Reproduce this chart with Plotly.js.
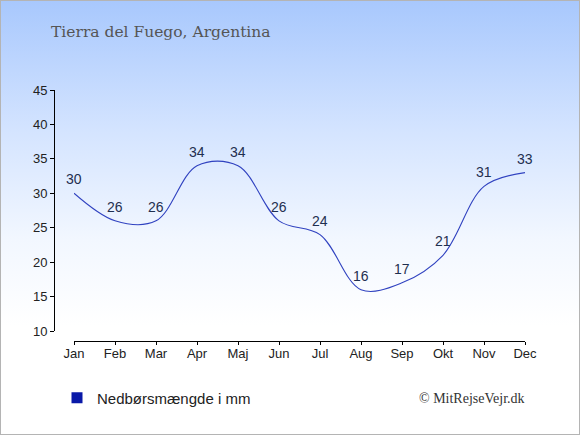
<!DOCTYPE html>
<html>
<head>
<meta charset="utf-8">
<script src="https://cdn.plot.ly/plotly-3.0.1.min.js"></script>
<style>
html,body{margin:0;padding:0;}
#wrap{position:relative;width:578px;height:433px;border:1px solid #b4b4b4;
 background:linear-gradient(to bottom,#a8c8fd 0%,#d4e4ff 30%,#f2f7ff 55%,#ffffff 75%,#ffffff 100%);}
#chart{position:absolute;left:-1px;top:-1px;width:580px;height:435px;}
</style>
</head>
<body>
<div id="wrap"><div id="chart"></div></div>
<script>
const months = ["Jan","Feb","Mar","Apr","Maj","Jun","Jul","Aug","Sep","Okt","Nov","Dec"];
const precip = [30,26,26,34,34,26,24,16,17,21,31,33];
const yTicks = [10,15,20,25,30,35,40,45];
const chartTitle = "Tierra del Fuego, Argentina";
const seriesName = "Nedbørsmængde i mm";
const credit = "© MitRejseVejr.dk";

const W = 580, H = 435;
const idx = months.map((m,i)=>i);

const traces = [
  {
    x: idx, y: precip, mode: "lines", type: "scatter",
    line: {color: "#3042c0", width: 1.1, shape: "spline", smoothing: 1},
    showlegend: false, hoverinfo: "skip", cliponaxis: false
  },
  {
    x: [null], y: [null], mode: "markers", type: "scatter", name: seriesName,
    marker: {symbol: "square", size: 11, color: "#0a19a8"},
    showlegend: true
  }
];

const labelAnns = idx.map(i => ({
  x: i, y: precip[i], xref: "x", yref: "y",
  text: String(precip[i]), showarrow: false,
  xanchor: "center", yanchor: "middle", yshift: 14,
  font: {family: "Liberation Sans, Arial, sans-serif", size: 14, color: "#1f2f4f"}
}));

const layout = {
  width: W, height: H,
  margin: {l: 0, r: 0, t: 0, b: 0},
  paper_bgcolor: "rgba(0,0,0,0)",
  plot_bgcolor: "rgba(0,0,0,0)",
  title: {
    text: chartTitle, x: 51/W, xanchor: "left", y: 1 - 32/H, yanchor: "middle",
    font: {family: "DejaVu Serif, serif", size: 15.5, color: "#555555"}
  },
  xaxis: {
    domain: [74/W, 525/W], range: [0, 11],
    anchor: "free", position: (H-341)/H,
    tickvals: idx, ticktext: months,
    showline: true, linecolor: "#000", linewidth: 1,
    ticks: "outside", ticklen: 3, tickcolor: "#000",
    ticklabelstandoff: -3,
    showgrid: false, zeroline: false,
    tickfont: {family: "Liberation Sans, Arial, sans-serif", size: 13, color: "#222"},
    fixedrange: true
  },
  yaxis: {
    domain: [(H-331)/H, (H-90)/H], range: [10, 45],
    anchor: "free", position: 54/W,
    tickvals: yTicks,
    showline: true, linecolor: "#000", linewidth: 1,
    ticks: "outside", ticklen: 4, tickcolor: "#000",
    showgrid: false, zeroline: false,
    tickfont: {family: "Liberation Sans, Arial, sans-serif", size: 13, color: "#222"},
    fixedrange: true
  },
  showlegend: true,
  legend: {
    x: 57/W, y: 1 - 398/H, xanchor: "left", yanchor: "middle",
    bgcolor: "rgba(0,0,0,0)",
    font: {family: "Liberation Sans, Arial, sans-serif", size: 15, color: "#222"},
    itemwidth: 30
  },
  annotations: labelAnns.concat([
    {
      text: credit, xref: "paper", yref: "paper", x: 527/W, y: 1 - 398/H,
      xanchor: "right", yanchor: "middle", showarrow: false,
      font: {family: "Liberation Serif, serif", size: 14, color: "#333"}
    }
  ])
};

Plotly.newPlot("chart", traces, layout, {displayModeBar: false, staticPlot: true});
</script>
</body>
</html>
